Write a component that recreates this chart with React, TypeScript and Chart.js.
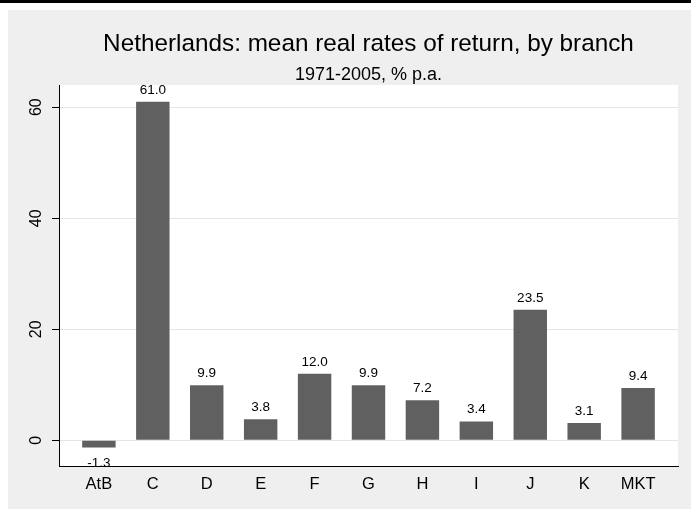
import React, { useEffect, useRef } from "react";
import { Chart, registerables } from "chart.js";

Chart.register(...registerables);

const categories = ["AtB", "C", "D", "E", "F", "G", "H", "I", "J", "K", "MKT"];
const returns = [-1.3, 61.0, 9.9, 3.8, 12.0, 9.9, 7.2, 3.4, 23.5, 3.1, 9.4];
const yTickValues = [0, 20, 40, 60];
const titleText = "Netherlands: mean real rates of return, by branch";
const subtitleText = "1971-2005, % p.a.";

const FONT = "'Liberation Sans', Arial, Helvetica, sans-serif";
const W = 691;
const H = 509;

const backgroundPlugin = {
  id: "stataBackground",
  beforeDraw(chart: any) {
    const { ctx, chartArea } = chart;
    ctx.save();
    ctx.fillStyle = "#ffffff";
    ctx.fillRect(0, 0, W, H);
    ctx.fillStyle = "#000000";
    ctx.fillRect(0, 0, W, 3);
    ctx.fillStyle = "#efefef";
    ctx.fillRect(8, 10, W - 8, H - 10);
    ctx.fillStyle = "#ffffff";
    ctx.fillRect(
      chartArea.left,
      chartArea.top,
      chartArea.right - chartArea.left,
      chartArea.bottom - chartArea.top
    );
    ctx.restore();
  },
};

const valueLabelPlugin = {
  id: "valueLabels",
  afterDatasetsDraw(chart: any) {
    const { ctx } = chart;
    const meta = chart.getDatasetMeta(0);
    ctx.save();
    ctx.font = `13.5px ${FONT}`;
    ctx.fillStyle = "#000000";
    ctx.textAlign = "center";
    ctx.textBaseline = "alphabetic";
    meta.data.forEach((el: any, i: number) => {
      const v = returns[i];
      const { x, y } = el.getProps(["x", "y"], true);
      const txt = v.toFixed(1);
      if (v >= 0) ctx.fillText(txt, x, y - 8);
      else ctx.fillText(txt, x, y + 19);
    });
    ctx.restore();
  },
};

export default function App() {
  const ref = useRef<HTMLCanvasElement | null>(null);

  useEffect(() => {
    if (!ref.current) return;
    const chart = new Chart(ref.current, {
      type: "bar",
      data: {
        datasets: [
          {
            data: returns.map((v, i) => ({ x: i, y: v })),
            backgroundColor: "#606060",
            borderWidth: 0,
            barPercentage: 0.62,
            categoryPercentage: 1,
          },
        ],
      },
      plugins: [backgroundPlugin, valueLabelPlugin],
      options: {
        responsive: false,
        animation: false,
        devicePixelRatio: 1,
        layout: { padding: { left: 0, right: 13, top: 0, bottom: 0 } },
        plugins: {
          legend: { display: false },
          tooltip: { enabled: false },
          title: {
            display: true,
            fullSize: false,
            text: titleText,
            color: "#000000",
            font: { family: FONT, size: 24.3, weight: "normal", lineHeight: 1.2 },
            padding: { top: 29.8, bottom: 0 },
          },
          subtitle: {
            display: true,
            fullSize: false,
            text: subtitleText,
            color: "#000000",
            font: { family: FONT, size: 18, weight: "normal", lineHeight: 1.0 },
            padding: { top: 7.2, bottom: 0.84 },
          },
        },
        scales: {
          x: {
            type: "linear",
            min: -0.74,
            max: 10.74,
            offset: false,
            grid: { display: false },
            border: { display: true, color: "#000000", width: 1 },
            afterBuildTicks: (scale: any) => {
              scale.ticks = categories.map((_, i) => ({ value: i }));
            },
            afterFit: (scale: any) => {
              scale.height = 43;
            },
            ticks: {
              color: "#000000",
              font: { family: FONT, size: 16.5 },
              padding: 1,
              maxRotation: 0,
              autoSkip: false,
              callback: (v: any) => categories[v as number] ?? "",
            },
          },
          y: {
            type: "linear",
            min: -4.63,
            max: 64,
            grid: {
              color: "#e6e6e6",
              tickColor: "#000000",
              tickLength: 7,
              drawTicks: true,
            },
            border: { display: true, color: "#000000", width: 1 },
            afterBuildTicks: (scale: any) => {
              scale.ticks = yTickValues.map((v) => ({ value: v }));
            },
            afterFit: (scale: any) => {
              scale.width = 59;
            },
            ticks: {
              color: "#000000",
              font: { family: FONT, size: 16 },
              minRotation: 90,
              maxRotation: 90,
              crossAlign: "center",
              padding: 7,
              callback: (v: any) => String(v),
            },
          },
        },
      } as any,
    });
    return () => chart.destroy();
  }, []);

  return (
    <canvas
      ref={ref}
      width={W}
      height={H}
      style={{ position: "absolute", left: 0, top: 0, width: W, height: H }}
    />
  );
}
